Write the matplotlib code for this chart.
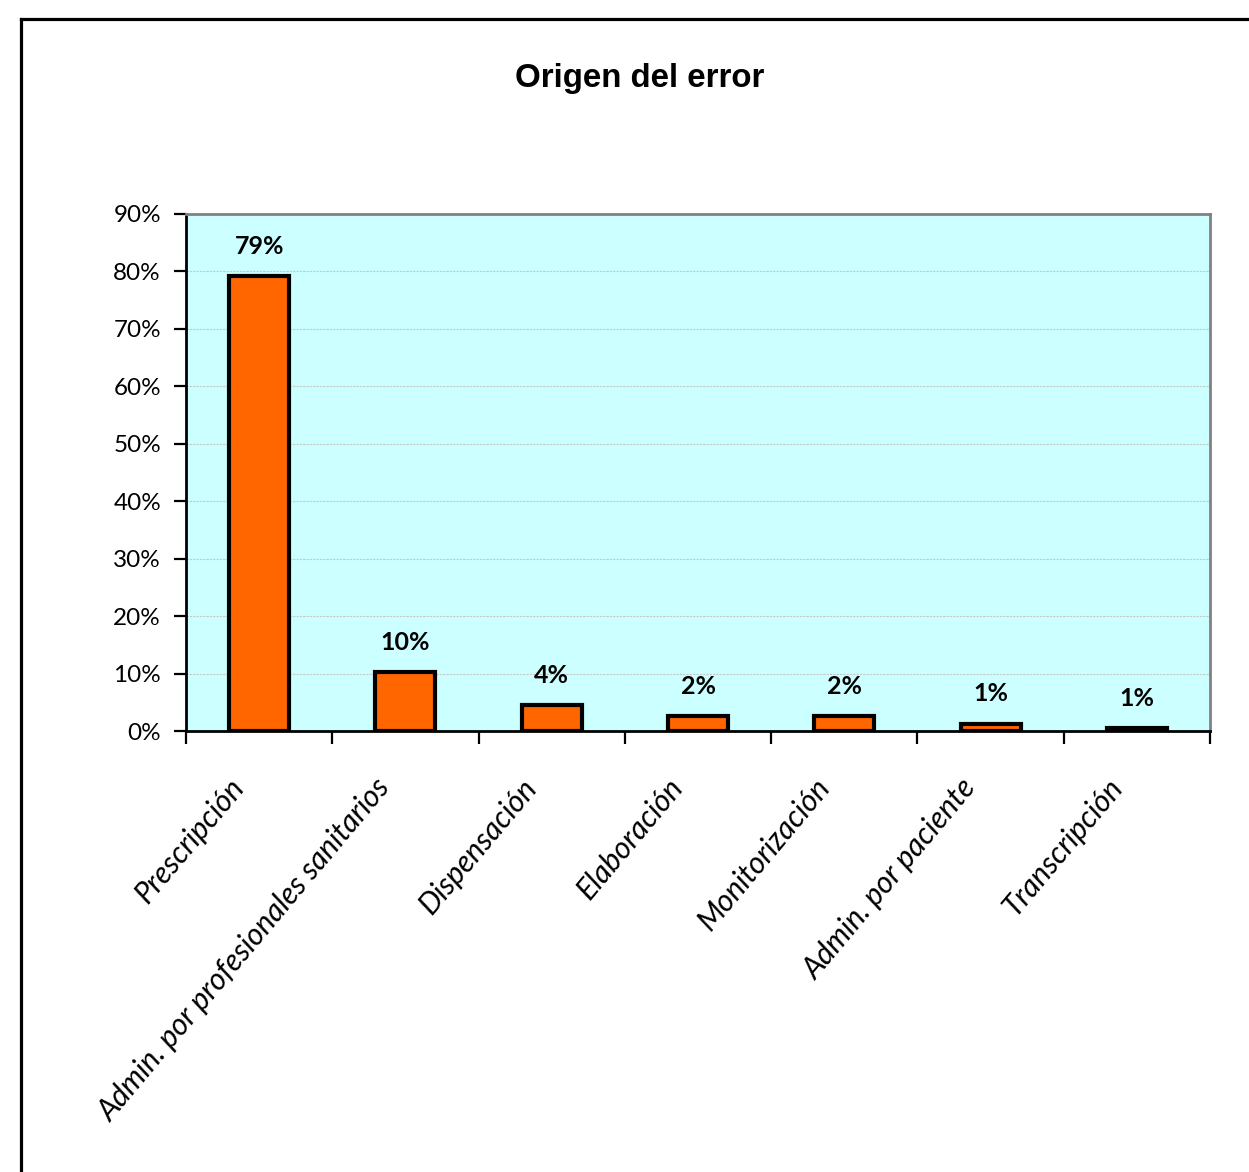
import matplotlib
matplotlib.use("Agg")
import matplotlib.pyplot as plt
from matplotlib.lines import Line2D
from matplotlib.ticker import FixedLocator, FuncFormatter
import matplotlib.transforms as mtransforms
import numpy as np

categories = ["Prescripción", "Admin. por profesionales sanitarios", "Dispensación",
              "Elaboración", "Monitorización", "Admin. por paciente", "Transcripción"]
values = [79.2, 10.3, 4.5, 2.6, 2.6, 1.3, 0.5]
value_labels = ["79%", "10%", "4%", "2%", "2%", "1%", "1%"]
yticks = [0, 10, 20, 30, 40, 50, 60, 70, 80, 90]

W, H = 1249, 1172
fig = plt.figure(figsize=(W / 100, H / 100), dpi=100)
fig.patch.set_facecolor("white")

# outer chart frame
fig.add_artist(Line2D([21 / W, 21 / W], [0, 1 - 19 / H], transform=fig.transFigure,
                      color="black", lw=2.3))
fig.add_artist(Line2D([21 / W, 1.0], [1 - 19 / H, 1 - 19 / H], transform=fig.transFigure,
                      color="black", lw=2.3))

ax = fig.add_axes([186 / W, 1 - 731 / H, (1210 - 186) / W, (731 - 214) / H])
ax.set_facecolor("#CCFFFF")

x = np.arange(len(categories))
ax.bar(x, values, width=0.41, color="#FF6600", edgecolor="black", linewidth=3, zorder=3)

for xi, v, lab in zip(x, values, value_labels):
    ax.annotate(lab, (xi, v), xytext=(0, 13), textcoords="offset points",
                ha="center", va="bottom", fontsize=18, fontweight="bold",
                family=["Lato", "DejaVu Sans"], color="black")

ax.set_xlim(-0.5, len(categories) - 0.5)
ax.set_ylim(0, 90)
ax.set_yticks(yticks)
ax.yaxis.set_major_formatter(FuncFormatter(lambda v, p: f"{int(v)}%"))
ax.grid(axis="y", color="#C8C8C8", lw=0.8, ls=(0, (2, 1)), zorder=1)
ax.set_axisbelow(True)

# category labels at centers, tick marks at boundaries
ax.set_xticks(x)
ax.set_xticklabels(categories, rotation=50, ha="right", va="center",
                   rotation_mode="anchor", fontsize=21.7, style="italic",
                   family=["Lato", "DejaVu Sans"])
ax.tick_params(axis="x", which="major", length=0, pad=37)
shift = mtransforms.ScaledTranslation(-20 / 100, 0, fig.dpi_scale_trans)
for lab in ax.get_xticklabels():
    lab.set_transform(lab.get_transform() + shift)
ax.xaxis.set_minor_locator(FixedLocator(np.arange(-0.5, len(categories), 1.0)))
ax.tick_params(axis="x", which="minor", length=9, width=1.6, color="black", direction="out")

ax.tick_params(axis="y", length=9, width=1.6, color="black", direction="out", pad=9,
               labelsize=17.5)
for lab in ax.get_yticklabels():
    lab.set_family(["Lato", "DejaVu Sans"])

ax.spines["left"].set_color("black")
ax.spines["left"].set_linewidth(2)
ax.spines["bottom"].set_color("black")
ax.spines["bottom"].set_linewidth(2)
ax.spines["top"].set_color("#808080")
ax.spines["top"].set_linewidth(2)
ax.spines["right"].set_color("#808080")
ax.spines["right"].set_linewidth(2)

fig.text(640 / W, 1 - 78 / H, "Origen del error", ha="center", va="center",
         fontsize=23.8, fontweight="bold", family=["Liberation Sans", "DejaVu Sans"])

fig.savefig("out.png", dpi=100, facecolor="white")
